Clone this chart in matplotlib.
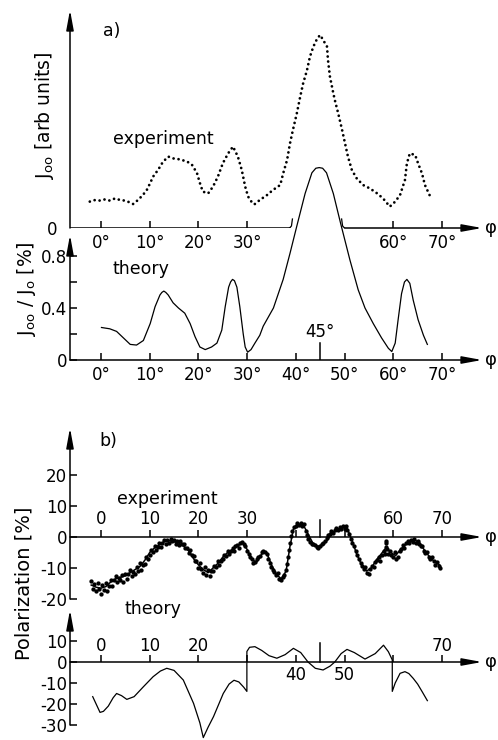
import matplotlib
matplotlib.use("Agg")
import matplotlib.pyplot as plt

# ---------------------------------------------------------------------------
# Data (phi in degrees)
# ---------------------------------------------------------------------------
# a) experiment, J_oo in arbitrary units
exp_a_phi = [-2.3, -1.2, -0.2, 0.8, 1.8, 2.9, 3.9, 4.9, 5.5, 6.6, 7.6, 8.6, 9.4, 10.1,
             10.7, 11.7, 12.7, 13.8, 14.8, 16.2, 17.7, 18.7, 19.7, 20.3, 20.9, 22.0, 23.0,
             24.0, 25.0, 26.1, 27.1, 28.1, 28.9, 29.6, 30.2, 31.2, 31.6, 32.6, 34.1, 35.3,
             36.8, 37.4, 38.2, 38.8, 39.4, 40.2, 40.9, 41.5, 42.3, 42.9, 43.6, 44.4, 45.0,
             45.6, 46.4, 46.6, 47.0, 47.7, 48.0, 48.7, 49.5, 50.1, 50.7, 51.5, 52.5, 53.8,
             55.2, 56.7, 57.9, 59.3, 60.4, 61.4, 62.4, 62.8, 63.4, 64.5, 65.1, 65.9, 66.5,
             67.6]
exp_a_val = [1.32, 1.40, 1.37, 1.43, 1.37, 1.48, 1.40, 1.37, 1.32, 1.20, 1.40, 1.65, 1.90, 2.25,
             2.57, 2.90, 3.30, 3.57, 3.48, 3.43, 3.32, 3.15, 2.75, 2.25, 1.82, 1.73, 2.07,
             2.57, 3.23, 3.73, 4.07, 3.57, 2.90, 2.07, 1.57, 1.20, 1.20, 1.40, 1.65, 1.90,
             2.15, 2.73, 3.40, 4.23, 4.90, 5.73, 6.57, 7.23, 7.90, 8.57, 9.07, 9.48, 9.65,
             9.40, 9.07, 8.40, 7.57, 6.73, 6.40, 5.73, 4.90, 4.23, 3.57, 2.90, 2.48, 2.15,
             1.98, 1.73, 1.48, 1.07, 1.32, 1.65, 2.40, 3.23, 3.73, 3.65, 3.23, 2.73, 2.15,
             1.57]

# a) theory, J_oo / J_o in %
th_a_phi = [0.1, 1.8, 3.2, 4.6, 6.0, 7.3, 8.7, 10.1, 11.1, 12.1, 12.5, 12.9, 13.3, 13.8,
            14.8, 15.9, 17.2, 18.3, 19.3, 20.3, 21.4, 22.7, 23.8, 24.8, 25.5, 26.2, 26.6,
            27.0, 27.4, 27.9, 28.5, 29.2, 29.6, 30.1, 30.8, 31.6, 32.6, 33.3, 35.4, 37.4,
            38.8, 40.2, 41.9, 43.3, 44.1, 44.8, 45.5, 46.3, 47.7, 49.2, 51.1, 52.8, 54.2,
            55.9, 57.6, 59.0, 59.7, 60.4, 61.0, 61.7, 62.3, 62.8, 63.4, 64.1, 65.1, 66.2,
            67.0]
th_a_val = [0.25, 0.24, 0.22, 0.17, 0.12, 0.115, 0.15, 0.28, 0.41, 0.50, 0.52, 0.53, 0.52, 0.50,
            0.44, 0.40, 0.36, 0.28, 0.18, 0.10, 0.08, 0.10, 0.13, 0.23, 0.41, 0.56, 0.60,
            0.62, 0.61, 0.56, 0.41, 0.20, 0.10, 0.06, 0.08, 0.13, 0.19, 0.26, 0.40, 0.62,
            0.82, 1.03, 1.28, 1.44, 1.475, 1.48, 1.475, 1.44, 1.28, 1.05, 0.77, 0.54, 0.40,
            0.28, 0.17, 0.09, 0.065, 0.13, 0.31, 0.51, 0.60, 0.62, 0.59, 0.46, 0.31, 0.19,
            0.12]

# b) experiment, polarization in % (measured points)
pol_exp_phi = [-2.0, -1.7, -1.4, -1.0, -0.7, -0.4, 0.0, 0.3, 0.6, 1.0, 1.3, 1.6,
               2.0, 2.3, 2.6, 3.0, 3.3, 3.6, 4.0, 4.3, 4.6, 5.0, 5.3, 5.6,
               6.0, 6.3, 6.6, 7.0, 7.3, 7.6, 8.0, 8.3, 8.6, 9.0, 9.3, 9.6,
               10.0, 10.3, 10.6, 11.0, 11.3, 11.6, 12.0, 12.3, 12.6, 13.0, 13.3, 13.6,
               14.0, 14.3, 14.6, 15.0, 15.3, 15.6, 16.0, 16.3, 16.6, 17.0, 17.3, 17.6,
               18.0, 18.3, 18.6, 19.0, 19.3, 19.6, 20.0, 20.3, 20.6, 21.0, 21.3, 21.6,
               22.0, 22.3, 22.6, 23.0, 23.3, 23.6, 24.0, 24.3, 24.6, 25.0, 25.3, 25.6,
               26.0, 26.3, 26.6, 27.0, 27.3, 27.6, 28.0, 28.3, 28.6, 29.0, 29.3, 29.6,
               30.0, 30.3, 30.6, 31.0, 31.3, 31.6, 32.0, 32.3, 32.6, 33.0, 33.3, 33.6,
               34.0, 34.3, 34.6, 35.0, 35.3, 35.6, 36.0, 36.3, 36.6, 37.0, 37.3, 37.6,
               38.0, 38.2, 38.4, 38.6, 38.8,
               39.0, 39.3, 39.6, 40.0, 40.3, 40.6, 41.0, 41.3, 41.6, 42.0, 42.3, 42.6,
               43.0, 43.3, 43.6, 44.0, 44.3, 44.6, 45.0, 45.3, 45.6, 46.0, 46.3, 46.6,
               47.0, 47.3, 47.6, 48.0, 48.3, 48.6, 49.0, 49.3, 49.6, 50.0, 50.3, 50.6,
               51.0, 51.3, 51.6, 52.0, 52.3, 52.6, 53.0, 53.3, 53.6, 54.0, 54.3, 54.6,
               55.0, 55.3, 55.6, 56.0, 56.3, 56.6, 57.0, 57.3, 57.6,
               58.0, 58.3, 58.5, 58.5, 58.6, 58.7,
               59.0, 59.3, 59.6, 60.0, 60.3, 60.6, 61.0, 61.3, 61.6, 62.0, 62.3, 62.6,
               63.0, 63.3, 63.6, 64.0, 64.3, 64.6, 65.0, 65.3, 65.6, 66.0, 66.3, 66.6,
               67.0, 67.3, 67.6, 68.0, 68.3, 68.6, 69.0, 69.3, 69.6]
pol_exp_val = [-14.2, -16.8, -15.1, -17.5, -15.0, -16.9, -18.3, -15.6, -17.2, -14.9, -17.4, -15.8,
               -13.8, -15.9, -14.0, -12.6, -14.6, -13.1, -13.9, -12.2, -14.4, -11.8, -13.6, -12.0,
               -10.6, -12.7, -11.3, -11.8, -9.7, -10.9, -8.5, -10.8, -9.0, -8.6, -6.6, -7.2,
               -5.9, -4.3, -5.0, -3.0, -4.2, -3.1, -2.0, -3.1, -1.9, -1.0, -2.2, -0.9,
               -1.8, -0.7, -1.4, -0.9, -2.1, -1.3, -2.6, -1.4, -2.4, -2.3, -3.7, -3.4,
               -5.3, -4.1, -5.8, -6.2, -7.8, -7.6, -9.9, -8.4, -10.3, -11.6, -9.8, -12.2,
               -10.7, -12.6, -11.1, -10.9, -9.3, -9.6, -7.8, -9.0, -7.6, -7.1, -5.9, -6.0,
               -4.4, -5.6, -4.6, -3.4, -4.5, -3.0, -2.6, -3.4, -1.9, -1.5, -2.4, -3.0,
               -4.6, -5.4, -6.5, -7.0, -8.3, -8.0, -7.2, -6.4, -6.0, -5.0, -4.6, -4.9,
               -5.6, -7.0, -8.4, -9.6, -10.5, -11.2, -12.4, -11.6, -13.5, -13.9, -12.8, -12.2,
               -10.5, -8.6, -6.5, -4.2, -2.0,
               0.3, 2.0, 3.1, 3.6, 4.6, 3.9, 4.5, 3.5, 4.3, 2.0, 0.6, -0.6,
               -1.6, -2.4, -2.1, -2.6, -3.3, -3.6, -2.9, -2.2, -1.8, -1.4, -0.3, 0.5,
               1.1, 2.0, 1.3, 2.3, 3.0, 2.2, 3.3, 2.6, 3.6, 2.7, 3.5, 2.4,
               1.0, -0.6, -1.8, -3.0, -4.6, -5.9, -7.0, -8.4, -9.2, -10.4, -9.6, -11.5,
               -11.8, -10.4, -9.2, -9.6, -8.2, -7.4, -6.6, -7.6, -5.8,
               -4.4, -5.6, -2.0, -3.2, -1.2, -4.0,
               -5.4, -4.6, -5.8, -6.3, -5.0, -7.2, -6.6, -4.6, -4.0, -2.6, -3.6, -1.8,
               -1.2, -2.0, -0.9, -1.5, -0.7, -1.8, -1.2, -2.2, -2.8, -3.0, -4.4, -5.2,
               -5.0, -6.4, -7.2, -6.6, -7.8, -8.9, -8.0, -9.4, -9.9]

# b) experiment, line drawn through the measured points
pol_fit_phi = [-2, -1, 0, 1, 2, 3, 4, 5, 6, 7, 8, 9, 10, 11, 12, 13, 14, 15, 16, 17, 18,
               19, 20, 21, 22, 23, 24, 25, 26, 27, 28, 29, 30, 31, 32, 33, 34, 35, 36, 37,
               38, 38.8, 39.5, 40.5, 41.5, 42.5, 43.5, 44.5, 45.5, 46.5, 47.5, 48.5, 49.5,
               50.5, 51.5, 52.5, 53.5, 54.5, 55.5, 56.5, 57.5, 58.5, 59.5, 60.5, 61.5, 62.5,
               63.5, 64.5, 65.5, 66.5, 67.5, 68.5, 69.5]
pol_fit_val = [-15.5, -16.2, -16.5, -16.0, -14.5, -13.5, -13.0, -12.5, -11.5, -10.5, -9.5,
               -7.5, -5.0, -3.5, -2.5, -1.5, -1.2, -1.5, -2.0, -3.0, -4.5, -7.0, -9.0, -10.5,
               -11.5, -10.0, -8.5, -6.5, -5.0, -4.0, -3.0, -1.8, -4.0, -7.5, -8.0, -5.5, -5.0,
               -9.0, -12.0, -13.5, -11.0, -3.0, 2.5, 4.0, 4.0, 1.0, -2.0, -3.0, -2.5, -1.0,
               1.5, 2.5, 3.0, 3.0, -1.0, -5.5, -9.0, -11.0, -10.0, -7.5, -5.5, -3.5, -5.0,
               -6.0, -4.0, -2.5, -1.5, -1.0, -2.0, -4.5, -6.5, -8.0, -9.0]

# b) theory, polarization in % (jumps at 30 and 60 degrees)
th_b_phi = [-1.7, -1.0, -0.2, 0.5, 1.5, 2.5, 3.2, 4.2, 5.3, 6.8, 8.7, 10.7, 12.2, 13.5,
            15.0, 16.9, 19.0, 20.3, 21.0, 22.0, 23.1, 25.1, 26.3, 27.3, 28.3, 29.3, 29.95,
            29.95, 30.5, 31.6, 33.0, 34.5, 36.1, 37.8, 39.5, 41.0, 42.5, 44.0, 45.6, 47.0,
            48.0, 49.3, 50.5, 52.0, 54.2, 56.3, 58.0, 59.0, 59.8, 59.8, 60.4, 61.4, 62.4,
            63.2, 64.1, 65.0, 65.9, 67.0]
th_b_val = [-16.5, -20.0, -24.0, -23.5, -21.0, -17.0, -15.0, -16.0, -17.8, -16.5, -11.8,
            -7.0, -4.3, -3.0, -4.0, -8.6, -19.7, -29.0, -36.0, -31.0, -26.0, -15.0, -10.5,
            -8.7, -9.5, -12.0, -14.0, 5.0, 7.0, 7.3, 5.5, 3.0, 1.8, 3.5, 6.5, 4.5, 0.0, -3.0,
            -3.8, -2.0, 0.0, 4.0, 6.0, 4.5, 1.4, 4.0, 8.0, 4.9, 1.0, -14.0, -10.0, -5.4,
            -4.6, -5.5, -7.8, -10.5, -14.0, -18.4]

tick_deg = [0, 10, 20, 30, 40, 50, 60, 70]

# ---------------------------------------------------------------------------
W, H = 498, 740
fig = plt.figure(figsize=(W / 100, H / 100), dpi=100)
plt.rcParams["font.family"] = ["DejaVu Sans"]

X0, X1 = -6.364, 78.22
FS = 12
LW = 1.1


def add_panel(top, bottom, ylim):
    ax = fig.add_axes([70 / W, 1 - bottom / H, 412 / W, (bottom - top) / H])
    ax.set_xlim(X0, X1)
    ax.set_ylim(*ylim)
    ax.patch.set_alpha(0)
    for s in ax.spines.values():
        s.set_visible(False)
    return ax


def arrow(ax, x0, y0, x1, y1):
    ax.annotate("", xy=(x1, y1), xytext=(x0, y0), annotation_clip=False,
                arrowprops=dict(arrowstyle="-|>,head_length=1.2,head_width=0.22",
                                lw=LW, color="k", shrinkA=0, shrinkB=0,
                                mutation_scale=10))


def ftext(x, y, s, **kw):
    kw.setdefault("fontsize", FS + 0.5)
    fig.text(x / W, 1 - y / H, s, **kw)


# ---------------- a) experiment ----------------
ax1 = add_panel(10, 228, (0, 10.9))
ax1.plot(exp_a_phi, exp_a_val, color="k", lw=2.0, ls=(0, (0.01, 1.8)),
         dash_capstyle="round")
arrow(ax1, X0, 0, X0, 10.9)
ax1.plot([X0, 38.7], [0, 0], color="k", lw=LW)
ax1.plot([38.7, 39.1, 39.3], [0, 0.1, 0.45], color="k", lw=0.9)
ax1.plot([49.4, 49.6, 50.0], [0.45, 0.1, 0], color="k", lw=0.9)
arrow(ax1, 50.0, 0, X1, 0)
top_ticks = [0, 10, 20, 30, 60, 70]
ax1.set_xticks(top_ticks, [f"{t}\u00b0" for t in top_ticks])
ax1.set_yticks([0], ["0"])
ax1.tick_params(axis="x", direction="in", length=5, width=LW, pad=4, labelsize=FS)
ax1.tick_params(axis="y", length=0, pad=9, labelsize=FS)

# ---------------- a) theory ----------------
ax2 = add_panel(235, 360, (0, 0.9615))
ax2.plot(th_a_phi, th_a_val, color="k", lw=0.9, clip_on=False)
arrow(ax2, X0, 0, X0, 0.9615)
arrow(ax2, X0, 0, X1, 0)
ax2.set_xticks(tick_deg, [f"{t}\u00b0" for t in tick_deg])
ax2.set_yticks([0, 0.2, 0.4, 0.6, 0.8], ["0", "", "0.4", "", "0.8"])
ax2.tick_params(axis="both", direction="in", length=5, width=LW, labelsize=FS)
ax2.tick_params(axis="x", pad=4)
ax2.tick_params(axis="y", pad=2)
ax2.axvline(45, ymin=0, ymax=0.13 / 0.9615, color="k", lw=LW)
ax2.text(45, 0.145, "45\u00b0", ha="center", va="bottom", fontsize=FS)

# ---------------- b) experiment ----------------
ax3 = add_panel(428, 599, (-20, 35.16))
ax3.plot(pol_fit_phi, pol_fit_val, color="k", lw=1.1)
ax3.plot(pol_exp_phi, pol_exp_val, "o", color="k", ms=3.1, mec="none")
arrow(ax3, X0, -20, X0, 35.16)
arrow(ax3, X0, 0, X1, 0)
ax3.spines["bottom"].set_position(("data", 0))
ax3.set_xticks(tick_deg)
ax3.set_yticks([-20, -10, 0, 10, 20], ["-20", "-10", "0", "10", "20"])
ax3.tick_params(axis="both", direction="in", length=5, width=LW, labelsize=FS)
ax3.tick_params(axis="x", labelbottom=False)
ax3.tick_params(axis="y", pad=2)
for t in [0, 10, 20, 30, 60, 70]:
    ax3.text(t, 3.0, str(t), ha="center", va="bottom", fontsize=FS)
ax3.axvline(45, ymin=20 / 55.16, ymax=25.5 / 55.16, color="k", lw=LW)

# ---------------- b) theory ----------------
ax4 = add_panel(610, 725, (-30, 24.76))
ax4.plot(th_b_phi, th_b_val, color="k", lw=0.9, clip_on=False)
arrow(ax4, X0, -30, X0, 24.76)
arrow(ax4, X0, 0, X1, 0)
ax4.spines["bottom"].set_position(("data", 0))
ax4.set_xticks(tick_deg)
ax4.set_yticks([-30, -20, -10, 0, 10], ["-30", "-20", "-10", "0", "10"])
ax4.tick_params(axis="both", direction="in", length=5, width=LW, labelsize=FS)
ax4.tick_params(axis="x", labelbottom=False)
ax4.tick_params(axis="y", pad=2)
for t in [0, 10, 20, 70]:
    ax4.text(t, 3.5, str(t), ha="center", va="bottom", fontsize=FS)
for t in [40, 50]:
    ax4.text(t, -2.0, str(t), ha="center", va="top", fontsize=FS)
ax4.axvline(45, ymin=30 / 54.76, ymax=39 / 54.76, color="k", lw=LW)

# ---------------- labels ----------------
ftext(112, 31, "a)", ha="center", va="center")
ftext(108, 441, "b)", ha="center", va="center")
ftext(163, 144, "experiment", ha="center", va="baseline")
ftext(141, 274, "theory", ha="center", va="baseline")
ftext(167, 504, "experiment", ha="center", va="baseline")
ftext(153, 614, "theory", ha="center", va="baseline")
for yy in (228, 360, 537, 662):
    ftext(491, yy, "\u03c6", ha="center", va="center", fontsize=FS + 1)

ftext(45, 115, "J$_{\\mathregular{oo}}$ [arb units]", rotation=90,
      ha="center", va="center", fontsize=FS + 1.5)
ftext(26, 289, "J$_{\\mathregular{oo}}$ / J$_{\\mathregular{o}}$ [%]", rotation=90,
      ha="center", va="center", fontsize=FS + 1.5)
ftext(24, 583, "Polarization [%]", rotation=90, ha="center", va="center",
      fontsize=FS + 2)

fig.savefig("out.png", dpi=100)
